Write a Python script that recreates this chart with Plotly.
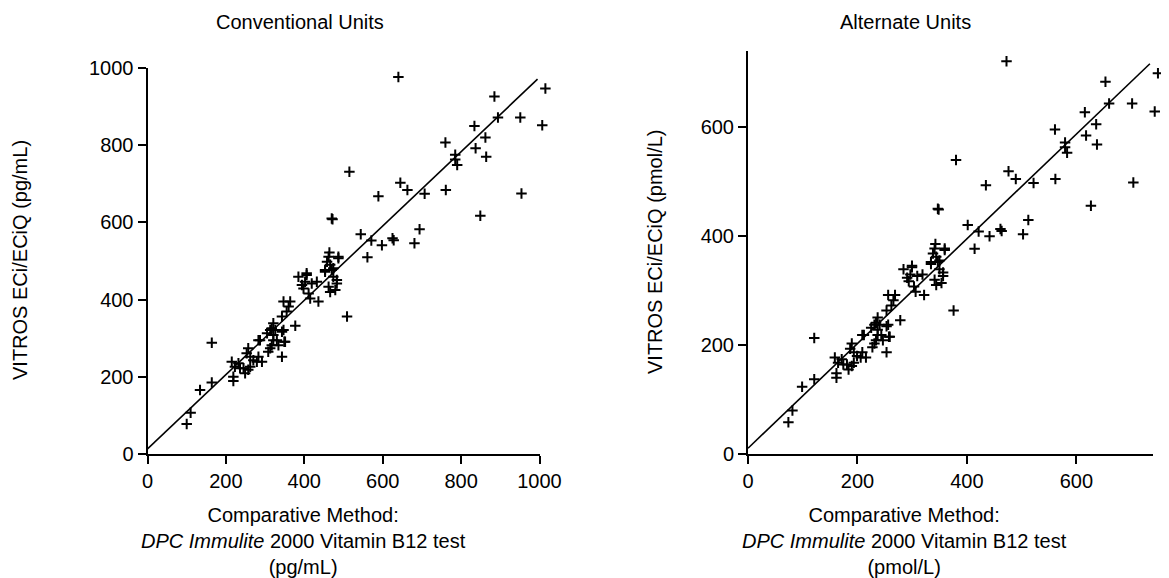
import plotly.graph_objects as go

# ---- Data (conventional units, pg/mL) ----
comparative_pg = [
    100, 110, 134, 164, 164,
    215, 219, 219, 223, 232, 236, 245, 249, 253, 257, 257, 262, 262, 270, 279, 283, 283, 287, 292,
    305, 308, 313, 313, 317, 317, 321, 321, 321, 326, 330, 334, 343, 343, 343, 347, 347, 349, 351,
    355, 360, 364, 377,
    385, 394, 398, 402, 406, 406, 411, 415, 419, 432, 436,
    453, 453, 458, 462, 462, 464, 466, 466, 470, 472, 474, 474, 479, 483, 483, 487, 487,
    509, 515, 544, 561, 571, 589, 598, 625, 628, 645, 663, 681, 694, 707,
    760, 761, 785, 785, 790, 834, 837, 849, 862, 864, 885, 894, 951, 954, 1007, 1015, 640, 470,
]
vitros_pg = [
    78, 107, 166, 185, 288,
    239, 200, 189, 226, 235, 222, 222, 209, 261, 274, 218, 252, 226, 243, 239, 295, 252, 295, 239,
    313, 265, 321, 274, 282, 326, 339, 295, 308, 321, 295, 282, 356, 252, 317, 321, 395, 291, 291,
    369, 382, 395, 332,
    459, 438, 429, 446, 464, 468, 416, 403, 442, 446, 395,
    472, 477, 498, 511, 433, 522, 490, 420, 477, 608, 481, 459, 425, 451, 442, 511, 507,
    356, 731, 569, 510, 553, 668, 541, 559, 554, 703, 684, 546, 582, 674,
    807, 684, 775, 763, 749, 850, 792, 617, 820, 770, 926, 872, 872, 675, 852, 947, 977, 610,
]

# regression line (pg/mL)
line_x_pg = [0, 995]
line_y_pg = [13, 971]

# unit conversion pg/mL -> pmol/L (Vitamin B12)
PMOL_PER_PG = 0.738
comparative_pmol = [v * PMOL_PER_PG for v in comparative_pg]
vitros_pmol = [v * PMOL_PER_PG for v in vitros_pg]
line_x_pmol = [v * PMOL_PER_PG for v in line_x_pg]
line_y_pmol = [v * PMOL_PER_PG for v in line_y_pg]

left_ticks = [0, 200, 400, 600, 800, 1000]
right_ticks = [0, 200, 400, 600]
LEFT_MAX = 1000
RIGHT_MAX = 740

FONT = "Arial, Liberation Sans, sans-serif"
FS = 20

# page body has an 8px margin, so the figure is drawn 8px in from the window corner
OFF = 8
W, H = 1169 - OFF, 578 - OFF


def fx(px):
    return (px - OFF) / W


def fy(py):
    return (H - (py - OFF)) / H


# visible axes (pixel frame of each panel)
L_X0, L_X1, L_Y0, L_Y1 = 147.5, 539.5, 454, 68
R_X0, R_X1, R_Y0, R_Y1 = 748, 1153, 453.5, 51
# hidden, larger frames with the same scale so markers just past the axis ends still show
L_XE, L_YE = 562, 50
R_XE, R_YE = 1166, 36

marker = dict(symbol="cross-thin", size=7.5, color="black",
              line=dict(color="black", width=2))

fig = go.Figure()
fig.add_trace(go.Scatter(x=line_x_pg, y=line_y_pg, mode="lines",
                         line=dict(color="black", width=1.6),
                         xaxis="x", yaxis="y", showlegend=False))
fig.add_trace(go.Scatter(x=line_x_pmol, y=line_y_pmol, mode="lines",
                         line=dict(color="black", width=1.6),
                         xaxis="x2", yaxis="y2", showlegend=False))
fig.add_trace(go.Scatter(x=comparative_pg, y=vitros_pg, mode="markers", marker=marker,
                         cliponaxis=False, xaxis="x3", yaxis="y3", showlegend=False))
fig.add_trace(go.Scatter(x=comparative_pmol, y=vitros_pmol, mode="markers", marker=marker,
                         cliponaxis=False, xaxis="x4", yaxis="y4", showlegend=False))

axis_common = dict(showline=True, linecolor="black", linewidth=2, ticks="outside",
                   ticklen=8, tickwidth=2, tickcolor="black", showgrid=False,
                   zeroline=False, automargin=False,
                   tickfont=dict(family=FONT, size=FS, color="black"))
hidden = dict(visible=False, showgrid=False, zeroline=False, automargin=False, fixedrange=True)

fig.update_layout(
    template="none",
    width=W, height=H,
    margin=dict(l=0, r=0, t=0, b=0, pad=0, autoexpand=False),
    paper_bgcolor="white", plot_bgcolor="rgba(0,0,0,0)",
    font=dict(family=FONT, size=FS, color="black"),
    xaxis=dict(domain=[fx(L_X0), fx(L_X1)], range=[0, LEFT_MAX], tickvals=left_ticks,
               anchor="y", **axis_common),
    yaxis=dict(domain=[fy(L_Y0), fy(L_Y1)], range=[0, LEFT_MAX], tickvals=left_ticks,
               anchor="x", **axis_common),
    xaxis2=dict(domain=[fx(R_X0), fx(R_X1)], range=[0, RIGHT_MAX], tickvals=right_ticks,
                anchor="y2", **axis_common),
    yaxis2=dict(domain=[fy(R_Y0), fy(R_Y1)], range=[0, RIGHT_MAX], tickvals=right_ticks,
                anchor="x2", **axis_common),
    xaxis3=dict(domain=[fx(L_X0), fx(L_XE)],
                range=[0, LEFT_MAX * (L_XE - L_X0) / (L_X1 - L_X0)], anchor="y3", **hidden),
    yaxis3=dict(domain=[fy(L_Y0), fy(L_YE)],
                range=[0, LEFT_MAX * (L_Y0 - L_YE) / (L_Y0 - L_Y1)], anchor="x3", **hidden),
    xaxis4=dict(domain=[fx(R_X0), fx(R_XE)],
                range=[0, RIGHT_MAX * (R_XE - R_X0) / (R_X1 - R_X0)], anchor="y4", **hidden),
    yaxis4=dict(domain=[fy(R_Y0), fy(R_YE)],
                range=[0, RIGHT_MAX * (R_Y0 - R_YE) / (R_Y0 - R_Y1)], anchor="x4", **hidden),
)

annotations = [
    dict(text="Conventional Units", x=fx(300), y=fy(22), xanchor="center", yanchor="middle"),
    dict(text="Alternate Units", x=fx(905), y=fy(22), xanchor="center", yanchor="middle"),
    dict(text="Comparative Method:<br><i>DPC Immulite</i> 2000 Vitamin B12 test<br>(pg/mL)",
         x=fx(303), y=fy(541), xanchor="center", yanchor="middle"),
    dict(text="Comparative Method:<br><i>DPC Immulite</i> 2000 Vitamin B12 test<br>(pmol/L)",
         x=fx(904), y=fy(541), xanchor="center", yanchor="middle"),
    dict(text="VITROS ECi/ECiQ (pg/mL)", x=fx(20), y=fy(260), textangle=-90,
         xanchor="center", yanchor="middle"),
    dict(text="VITROS ECi/ECiQ (pmol/L)", x=fx(655), y=fy(252), textangle=-90,
         xanchor="center", yanchor="middle"),
]
for a in annotations:
    a.update(xref="paper", yref="paper", showarrow=False,
             font=dict(family=FONT, size=FS, color="black"))
fig.update_layout(annotations=annotations)

fig.write_html("out.html")
